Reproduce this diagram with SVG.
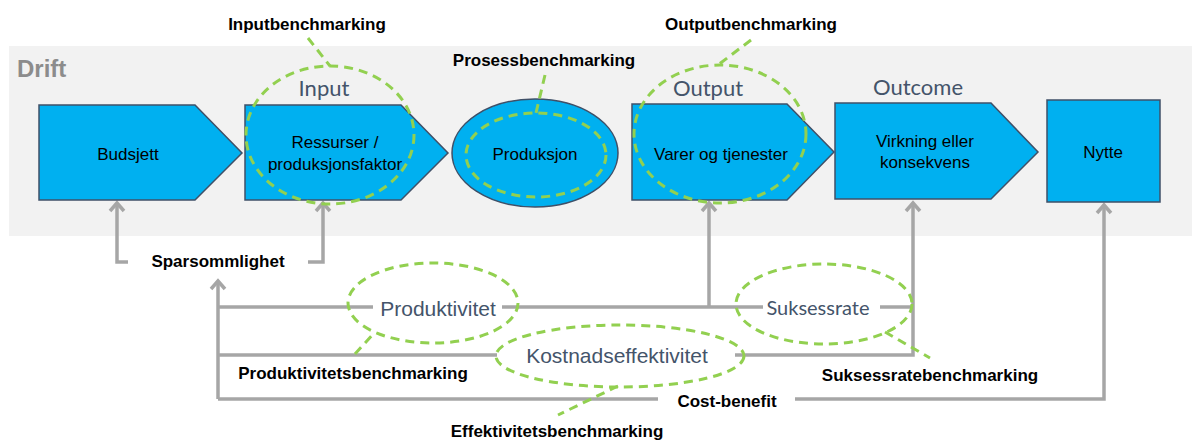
<svg xmlns="http://www.w3.org/2000/svg" width="1192" height="440" viewBox="0 0 1192 440">
  <style>
    .shape { fill: #00b0f0; stroke: #3f5068; stroke-width: 1.5; }
    .inner { font-family: "Liberation Sans", Arial, sans-serif; font-size: 17px; fill: #000; text-anchor: middle; }
    .stage { font-family: Lato, "Open Sans", sans-serif; font-size: 22px; fill: #44546a; text-anchor: middle; }
    .measure { font-family: "Liberation Sans", Arial, sans-serif; font-size: 21px; fill: #44546a; text-anchor: middle; }
    .bench { font-family: "Liberation Sans", Arial, sans-serif; font-size: 17px; font-weight: bold; fill: #000; text-anchor: middle; }
    .dash { fill: none; stroke: #92d050; stroke-width: 3; stroke-dasharray: 9 6; }
    .conn { fill: none; stroke: #a6a6a6; stroke-width: 3.5; }
  </style>
  <defs>
    <marker id="open" markerUnits="userSpaceOnUse" viewBox="-10 -10 20 20" markerWidth="20" markerHeight="20" refX="0" refY="0" orient="auto">
      <path d="M-8,-7 L0,0 L-8,7" fill="none" stroke="#a6a6a6" stroke-width="3.5"/>
    </marker>
  </defs>

  <rect width="1192" height="440" fill="#ffffff"/>
  <!-- operations band -->
  <rect x="9" y="46" width="1183" height="190" fill="#f2f2f2"/>
  <text x="17" y="77" font-family="Liberation Sans, Arial, sans-serif" font-size="24" font-weight="bold" fill="#8c8c8c">Drift</text>

  <!-- stage headings -->
  <text class="stage" x="324" y="96">Input</text>
  <text class="stage" x="708" y="96">Output</text>
  <text class="stage" x="918" y="95">Outcome</text>

  <!-- connectors -->
  <g id="connectors">
    <path class="conn" d="M128,262 H117 V203" marker-end="url(#open)"/>
    <path class="conn" d="M308,262 H323 V203" marker-end="url(#open)"/>
    <path class="conn" d="M218,399 V281" marker-end="url(#open)"/>
    <path class="conn" d="M218,307 H373 M502,307 H763 M880,307 H913"/>
    <path class="conn" d="M709,307 V203" marker-end="url(#open)"/>
    <path class="conn" d="M218,355 H497 M735,355 H913 V203" marker-end="url(#open)"/>
    <path class="conn" d="M218,399 H658 M795,399 H1104 V205" marker-end="url(#open)"/>
  </g>

  <!-- nodes -->
  <g id="budsjett">
    <path class="shape" d="M39,105 H195 L242,153 L195,200 H39 Z"/>
    <text class="inner" x="128" y="160">Budsjett</text>
  </g>
  <g id="ressurser">
    <path class="shape" d="M245,105 H401 L448,153 L401,200 H245 Z"/>
    <text class="inner" x="335" y="148">Ressurser /</text>
    <text class="inner" x="335" y="170">produksjonsfaktor</text>
  </g>
  <g id="produksjon">
    <ellipse class="shape" cx="535" cy="153" rx="83" ry="54"/>
    <text class="inner" x="535" y="160">Produksjon</text>
  </g>
  <g id="varer">
    <path class="shape" d="M632,104 H787 L834,152 L787,200 H632 Z"/>
    <text class="inner" x="721" y="160">Varer og tjenester</text>
  </g>
  <g id="virkning">
    <path class="shape" d="M835,103 H991 L1038,152 L991,199 H835 Z"/>
    <text class="inner" x="925" y="147">Virkning eller</text>
    <text class="inner" x="925" y="168">konsekvens</text>
  </g>
  <g id="nytte">
    <rect class="shape" x="1047" y="100" width="113" height="102"/>
    <text class="inner" x="1103" y="158">Nytte</text>
  </g>

  <!-- benchmarking scopes -->
  <g id="inputbenchmarking">
    <ellipse class="dash" cx="330" cy="135" rx="84" ry="69"/>
    <path class="dash" d="M308,38 L330,66"/>
    <text class="bench" x="307" y="30">Inputbenchmarking</text>
  </g>
  <g id="prosessbenchmarking">
    <ellipse class="dash" cx="536" cy="155" rx="70" ry="42"/>
    <path class="dash" d="M545,75 L536,113"/>
    <text class="bench" x="544" y="66">Prosessbenchmarking</text>
  </g>
  <g id="outputbenchmarking">
    <ellipse class="dash" cx="720" cy="134" rx="86" ry="69"/>
    <path class="dash" d="M751,40 L718,65"/>
    <text class="bench" x="751" y="30">Outputbenchmarking</text>
  </g>

  <g id="sparsommlighet">
    <text class="bench" x="218" y="267">Sparsommlighet</text>
  </g>

  <g id="produktivitet">
    <ellipse class="dash" cx="433" cy="303" rx="85" ry="40"/>
    <text class="measure" x="438" y="316">Produktivitet</text>
    <path class="dash" d="M355,354 L375,332"/>
    <text class="bench" x="353" y="379">Produktivitetsbenchmarking</text>
  </g>

  <g id="suksessrate">
    <ellipse class="dash" cx="824" cy="304" rx="88" ry="40"/>
    <text x="818" y="315" font-family="Lato, 'Open Sans', sans-serif" font-size="20" fill="#44546a" text-anchor="middle">Suksessrate</text>
    <path class="dash" d="M885,332 L930,358"/>
    <text class="bench" x="930" y="381">Suksessratebenchmarking</text>
  </g>

  <g id="kostnadseffektivitet">
    <ellipse class="dash" cx="620" cy="356" rx="124" ry="31"/>
    <text class="measure" x="617" y="363">Kostnadseffektivitet</text>
    <path class="dash" d="M618,386 L558,415"/>
    <text class="bench" x="557" y="437">Effektivitetsbenchmarking</text>
  </g>

  <g id="cost-benefit">
    <text class="bench" x="727" y="407">Cost-benefit</text>
  </g>
</svg>
